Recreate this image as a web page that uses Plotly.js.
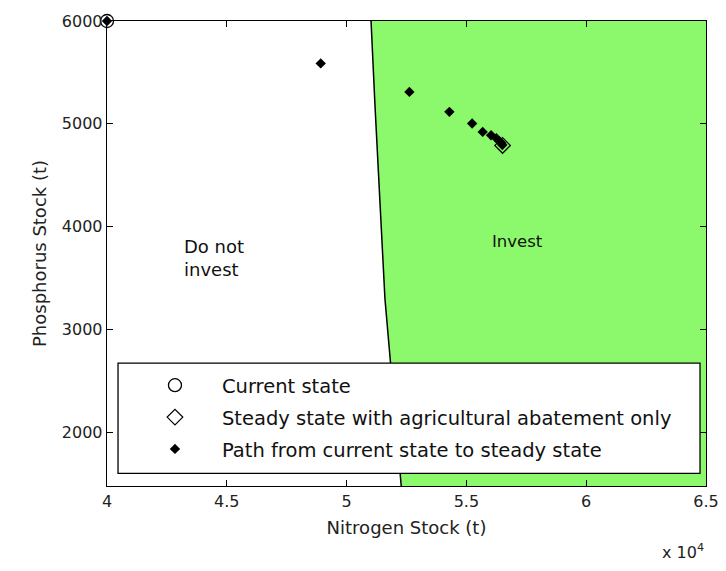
<!DOCTYPE html>
<html>
<head>
<meta charset="utf-8">
<script src="https://cdn.plot.ly/plotly-3.0.1.min.js"></script>
<style>html,body{margin:0;padding:0;background:#fff;}#chart{width:726px;height:571px;}</style>
</head>
<body>
<div id="chart"></div>
<script>
// Data (Nitrogen stock in t, Phosphorus stock in t)
const currentN = [40000];
const currentP = [6000];
const steadyN = [56510];
const steadyP = [4790];
const pathN = [40000, 48920, 52620, 54290, 55240, 55680, 56030, 56250, 56380, 56460, 56500];
const pathP = [6000, 5588, 5311, 5117, 5004, 4922, 4890, 4861, 4832, 4813, 4795];
// Investment region boundary (top to bottom)
const boundaryN = [51020, 51180, 51600, 52280];
const boundaryP = [6000, 5200, 3300, 1480];
const xTickVals = [40000, 45000, 50000, 55000, 60000, 65000];
const xTickText = ["4", "4.5", "5", "5.5", "6", "6.5"];
const yTickVals = [2000, 3000, 4000, 5000, 6000];
const xRange = [40000, 65000];
const yRange = [1480, 6000];
const legendNames = ["Current state", "Steady state with agricultural abatement only", "Path from current state to steady state"];

const FONT = "DejaVu Sans, Arial, sans-serif";
const green = "rgb(140,248,108)";

const regionX = boundaryN.concat([xRange[1], xRange[1]]);
const regionY = boundaryP.concat([yRange[0], yRange[1]]);

const traces = [
  {x: regionX, y: regionY, type: "scatter", mode: "lines", fill: "toself",
   fillcolor: green, line: {width: 0, color: green}, showlegend: false, hoverinfo: "skip"},
  {x: boundaryN, y: boundaryP, type: "scatter", mode: "lines",
   line: {color: "#000", width: 1.5}, showlegend: false, hoverinfo: "skip"},
  {x: currentN, y: currentP, type: "scatter", mode: "markers", name: legendNames[0],
   legendgroup: "a", cliponaxis: false,
   marker: {symbol: "circle-open", size: 13, color: "#000", line: {width: 1.3, color: "#000"}}},
  {x: steadyN, y: steadyP, type: "scatter", mode: "markers", name: legendNames[1],
   legendgroup: "b", cliponaxis: false,
   marker: {symbol: "diamond-open", size: 12, color: "#000", line: {width: 1.2, color: "#000"}}},
  {x: pathN, y: pathP, type: "scatter", mode: "markers", name: legendNames[2],
   legendgroup: "c", cliponaxis: false,
   marker: {symbol: "diamond", size: 8, color: "#000", line: {width: 0}}}
];

const layout = {
  width: 726, height: 571,
  margin: {l: 107, r: 20, t: 21, b: 85},
  paper_bgcolor: "#fff", plot_bgcolor: "#fff",
  font: {family: FONT, size: 16, color: "#222"},
  showlegend: true,
  legend: {
    x: 0.035, y: 0.258, xanchor: "left", yanchor: "top",
    bgcolor: "rgba(0,0,0,0)", borderwidth: 0,
    traceorder: "grouped", tracegroupgap: 3.5, itemwidth: 84,
    font: {family: FONT, size: 19.5, color: "#111"}
  },
  xaxis: {
    range: xRange, tickvals: xTickVals, ticktext: xTickText,
    ticks: "inside", ticklen: 6, tickcolor: "#000", showline: true, linecolor: "#000",
    linewidth: 1.3, mirror: "ticks", showgrid: false, zeroline: false,
    tickfont: {family: FONT, size: 16, color: "#222"},
    title: {text: "Nitrogen Stock (t)", standoff: 12, font: {family: FONT, size: 18, color: "#222"}}
  },
  yaxis: {
    range: yRange, tickvals: yTickVals,
    ticks: "inside", ticklen: 6, tickcolor: "#000", showline: true, linecolor: "#000",
    linewidth: 1.3, mirror: "ticks", showgrid: false, zeroline: false,
    tickfont: {family: FONT, size: 16, color: "#222"},
    title: {text: "Phosphorus Stock (t)", standoff: 10, font: {family: FONT, size: 18, color: "#222"}}
  },
  shapes: [
    {type: "rect", xref: "paper", yref: "paper", layer: "above",
     x0: 0.0184, x1: 0.99, y0: 0.0273, y1: 0.2643,
     fillcolor: "#fff", line: {color: "#000", width: 1.3}}
  ],
  annotations: [
    {x: 43125, y: 3700, xref: "x", yref: "y", text: "Do not<br>invest", showarrow: false,
     align: "left", xanchor: "left", font: {family: FONT, size: 18, color: "#111"}},
    {x: 57150, y: 3860, xref: "x", yref: "y", text: "Invest", showarrow: false,
     font: {family: FONT, size: 16.5, color: "#111"}},
    {x: 1.0, y: -0.113, xref: "paper", yref: "paper", xanchor: "right", yanchor: "top",
     text: "x 10<sup>4</sup>", showarrow: false, font: {family: FONT, size: 16, color: "#222"}}
  ]
};

Plotly.newPlot("chart", traces, layout, {displayModeBar: false, staticPlot: true});
</script>
</body>
</html>
